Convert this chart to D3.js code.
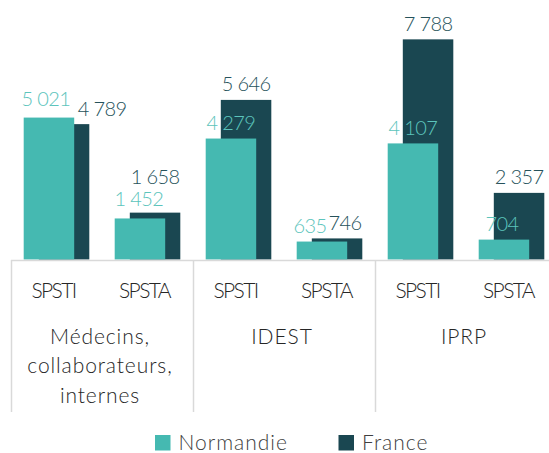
<!DOCTYPE html>
<html>
<head>
<meta charset="utf-8">
<script src="https://cdn.jsdelivr.net/npm/d3@7"></script>
<style>
  body { margin: 0; background: #fff; }
  svg { display: block; font-family: "Lato Light", Lato, "Open Sans", sans-serif; }
</style>
</head>
<body>
<div id="chart"></div>
<script>
// data
const groups = ["Médecins, collaborateurs, internes", "IDEST", "IPRP"];
const groupLines = [["Médecins,", "collaborateurs,", "internes"], ["IDEST"], ["IPRP"]];
const subCats = ["SPSTI", "SPSTA"];
const seriesNames = ["Normandie", "France"];
const normandie = [5021, 1452, 4279, 635, 4107, 704];
const france = [4789, 1658, 5646, 746, 7788, 2357];

// label nudges (Excel moved a few labels to avoid overlaps)
const normShift = [[-3, -3], [-1, -3.5], [0, 0], [-12, 0], [0, 0], [-2, 0]];
const franShift = [[38, 0], [0, -20], [0, 0], [8, 0], [0, 0], [0, 0]];

const svgWidth = 549, svgHeight = 453;
const colNorm = "#45b9b1", colFran = "#1a4751";
const lblNorm = "#5cc4bc", lblFran = "#26525b";

const svg = d3.select("#chart").append("svg")
    .attr("width", svgWidth)
    .attr("height", svgHeight);

// one band per group/sub-category pair
const keys = [];
groups.forEach(function(g, i) {
    subCats.forEach(function(s) { keys.push(i + "-" + s); });
});

const x = d3.scaleBand()
    .domain(keys)
    .range([11, 557])
    .padding(0);

const xGroup = d3.scaleBand()
    .domain(groups)
    .range([11, 557])
    .padding(0);

const y = d3.scaleLinear()
    .domain([0, 9000])
    .range([259.5, 5.1]);

const bw = x.bandwidth();
const barW = bw * 0.555;
const off = bw * 0.083;

const rows = keys.map(function(k, i) {
    return {key: k, sub: subCats[i % 2], n: normandie[i], f: france[i], i: i};
});

// France bars behind
svg.append("g").selectAll("rect")
    .data(rows)
    .enter()
    .append("rect")
    .attr("x", function(d) { return x(d.key) + bw / 2 + off - barW / 2; })
    .attr("y", function(d) { return y(d.f); })
    .attr("width", barW)
    .attr("height", function(d) { return y(0) - y(d.f); })
    .style("fill", colFran);

svg.append("g").selectAll("rect")
    .data(rows)
    .enter()
    .append("rect")
    .attr("x", function(d) { return x(d.key) + bw / 2 - off - barW / 2; })
    .attr("y", function(d) { return y(d.n); })
    .attr("width", barW)
    .attr("height", function(d) { return y(0) - y(d.n); })
    .style("fill", colNorm);

const fmt = function(v) { return d3.format(",")(v).replace(/,/g, " "); };

// value labels
svg.append("g").selectAll("text")
    .data(rows)
    .enter()
    .append("text")
    .attr("x", function(d) { return x(d.key) + bw / 2 - off + normShift[d.i][0]; })
    .attr("y", function(d) { return y(d.n) - 8.5 + normShift[d.i][1]; })
    .attr("text-anchor", "middle")
    .style("font-size", "20px")
    .style("font-weight", 300)
    .style("letter-spacing", "-0.6px")
    .style("fill", lblNorm)
    .text(function(d) { return fmt(d.n); });

svg.append("g").selectAll("text")
    .data(rows)
    .enter()
    .append("text")
    .attr("x", function(d) { return x(d.key) + bw / 2 + off + franShift[d.i][0]; })
    .attr("y", function(d) { return y(d.f) - 8.5 + franShift[d.i][1]; })
    .attr("text-anchor", "middle")
    .style("font-size", "20px")
    .style("font-weight", 300)
    .style("letter-spacing", "-0.6px")
    .style("fill", lblFran)
    .text(function(d) { return fmt(d.f); });

// axis line and group separators
const lineCol = "#d9d9d9";
svg.append("line")
    .attr("x1", 11).attr("x2", 557)
    .attr("y1", 260.5).attr("y2", 260.5)
    .style("stroke", lineCol).style("stroke-width", 1.5);

svg.append("g").selectAll("line")
    .data(groups.concat(["end"]))
    .enter()
    .append("line")
    .attr("x1", function(d, i) { return i < groups.length ? xGroup(d) + 0.5 : 557; })
    .attr("x2", function(d, i) { return i < groups.length ? xGroup(d) + 0.5 : 557; })
    .attr("y1", 260)
    .attr("y2", 412)
    .style("stroke", lineCol).style("stroke-width", 1.5);

// sub-category labels
svg.append("g").selectAll("text")
    .data(rows)
    .enter()
    .append("text")
    .attr("x", function(d) { return x(d.key) + bw / 2 - 3; })
    .attr("y", 298.3)
    .attr("text-anchor", "middle")
    .style("font-size", "21px")
    .style("font-weight", 300)
    .style("letter-spacing", "-1.6px")
    .style("fill", "#262626")
    .text(function(d) { return d.sub; });

// group labels
const gl = svg.append("g").selectAll("text")
    .data(groups)
    .enter()
    .append("text")
    .attr("text-anchor", "middle")
    .style("font-size", "21px")
    .style("font-weight", 300)
    .style("letter-spacing", "0.9px")
    .style("fill", "#262626");

gl.selectAll("tspan")
    .data(function(d, i) { return groupLines[i].map(function(t) { return {t: t, g: d}; }); })
    .enter()
    .append("tspan")
    .attr("x", function(d) { return xGroup(d.g) + xGroup.bandwidth() / 2 - 2; })
    .attr("y", function(d, j) { return 344 + j * 29.3; })
    .text(function(d) { return d.t; });

// legend
const legendX = [155, 338.5];
const legend = svg.append("g").selectAll("g")
    .data(seriesNames)
    .enter()
    .append("g")
    .attr("transform", function(d, i) { return "translate(" + legendX[i] + ",435)"; });

legend.append("rect")
    .attr("width", 15.5)
    .attr("height", 15.5)
    .style("fill", function(d, i) { return i == 0 ? colNorm : colFran; });

legend.append("text")
    .attr("x", 23.5)
    .attr("y", 15)
    .style("font-size", "21px")
    .style("font-weight", 300)
    .style("letter-spacing", "1px")
    .style("fill", "#404040")
    .text(function(d) { return d; });
</script>
</body>
</html>
